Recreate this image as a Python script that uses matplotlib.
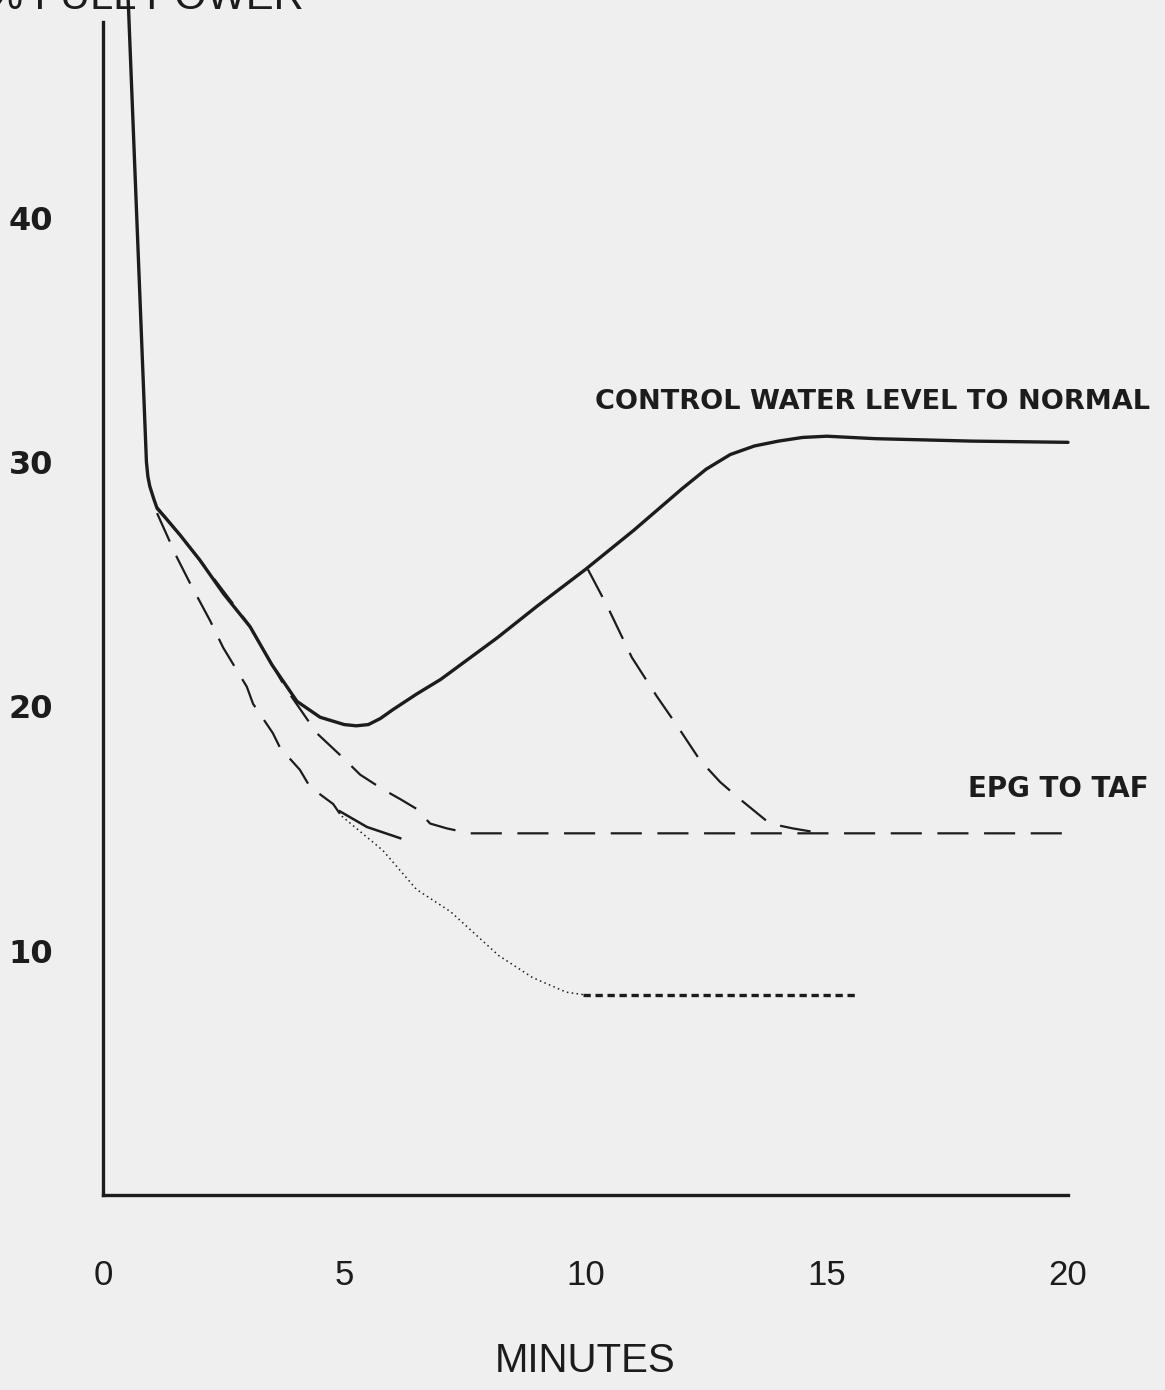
import matplotlib
matplotlib.use("Agg")
import matplotlib.pyplot as plt
from matplotlib import font_manager

# ---------------- data ----------------
x_ticks = [0, 5, 10, 15, 20]
y_ticks = [10, 20, 30, 40]

# main solid curve: control water level to normal
solid_x = [0.52, 0.72, 0.90, 0.93, 0.97, 1.05, 1.12, 1.3, 1.6, 2.0,
           2.5, 3.05, 3.5, 4.02, 4.5, 5.0, 5.25, 5.5, 5.75, 6.0, 6.5, 7.0, 8.17, 9.0, 10.0,
           11.0, 12.0, 12.5, 13.0, 13.5, 14.0, 14.5, 15.0, 16.0, 18.0, 20.0]
solid_y = [49.0, 39.0, 30.0, 29.4, 29.0, 28.5, 28.1, 27.7, 27.0, 26.0,
           24.6, 23.25, 21.7, 20.2, 19.55, 19.25, 19.2, 19.25, 19.5, 19.85, 20.5, 21.1, 22.8, 24.1, 25.6,
           27.2, 28.9, 29.7, 30.3, 30.65, 30.85, 31.0, 31.05, 30.95, 30.85, 30.8]

# upper dashed curve ending in the EPG-to-TAF level
dash1_x = [1.1, 2.0, 3.0, 3.8, 4.43, 4.97, 5.33, 5.8, 6.16, 6.5, 6.78, 7.13, 7.6, 20.0]
dash1_y = [28.2, 26.0, 23.4, 20.7, 18.9, 17.9, 17.2, 16.6, 16.2, 15.8, 15.2, 15.0, 14.8, 14.8]

# lower dashed curve
dash2_x = [1.12, 1.53, 1.8, 2.22, 2.49, 2.98, 3.11, 3.52, 3.67, 4.08, 4.29, 4.77, 4.91]
dash2_y = [27.9, 26.1, 25.05, 23.5, 22.4, 20.8, 20.1, 18.9, 18.3, 17.4, 16.7, 16.0, 15.6]

# short solid branch
short_x = [4.91, 5.47, 6.16]
short_y = [15.7, 15.06, 14.6]

# dotted decay curve
dot_x = [4.95, 5.8, 6.5, 7.2, 8.2, 8.9, 9.6, 9.95]
dot_y = [15.5, 14.1, 12.5, 11.6, 9.8, 8.9, 8.3, 8.2]
flat_x = [9.95, 15.63]
flat_y = [8.2, 8.2]

# dashed branch from the solid curve at 10 minutes
dash3_x = [10.05, 10.45, 10.96, 11.48, 11.9, 12.37, 12.79, 13.2, 13.82, 14.3, 14.9]
dash3_y = [25.6, 24.1, 22.0, 20.4, 19.2, 17.8, 16.9, 16.2, 15.2, 15.0, 14.8]

label_top = "CONTROL WATER LEVEL TO NORMAL"
label_bottom = "EPG TO TAF"
x_title = "MINUTES"
y_title = "% FULL POWER"

# ---------------- figure ----------------
W, H = 1165, 1390
DPI = 100
bg = "#efefef"
ink = "#1c1c1c"

names = {f.name for f in font_manager.fontManager.ttflist}
narrow = "Liberation Sans Narrow" if "Liberation Sans Narrow" in names else "Liberation Sans"

fig = plt.figure(figsize=(W / DPI, H / DPI), dpi=DPI, facecolor=bg)
left, right = 103 / W, 1068 / W
bottom, top = (H - 1195) / H, (H - 22) / H
ax = fig.add_axes([left, bottom, right - left, top - bottom])
ax.set_facecolor(bg)
ax.set_xlim(0, 20)
ax.set_ylim(0, 48)

for s in ["top", "right"]:
    ax.spines[s].set_visible(False)
for s in ["left", "bottom"]:
    ax.spines[s].set_linewidth(2.4)
    ax.spines[s].set_color(ink)

ax.set_xticks(x_ticks)
ax.set_xticklabels([str(t) for t in x_ticks], fontfamily=narrow, fontsize=25, color=ink)
ax.set_yticks(y_ticks)
ax.set_yticklabels([str(t) for t in y_ticks], fontfamily="DejaVu Sans", fontweight="bold",
                   fontsize=23, color=ink)
ax.tick_params(axis="x", length=0, pad=46)
ax.tick_params(axis="y", length=0, pad=36)

ax.plot(solid_x, solid_y, color=ink, lw=2.4, clip_on=False,
        solid_capstyle="round", solid_joinstyle="round")
ax.plot(dash1_x, dash1_y, color=ink, lw=1.6, dashes=(14, 7))
ax.plot(dash2_x, dash2_y, color=ink, lw=1.6, dashes=(14, 7))
ax.plot(short_x, short_y, color=ink, lw=1.8)
ax.plot(dot_x, dot_y, color=ink, lw=1.1, linestyle=(0, (1, 2.2)))
ax.plot(flat_x, flat_y, color=ink, lw=2.4, dashes=(2.2, 1.4))
ax.plot(dash3_x, dash3_y, color=ink, lw=1.6, dashes=(14, 7))

ax.text(21.7, 32.46, label_top, ha="right", va="center", fontsize=19.5,
        fontweight="bold", color=ink, fontfamily="DejaVu Sans", clip_on=False)
ax.text(21.67, 16.6, label_bottom, ha="right", va="center", fontsize=20,
        fontweight="bold", color=ink, fontfamily="DejaVu Sans", clip_on=False)

ax.set_xlabel(x_title, fontfamily="Liberation Sans", fontsize=29, color=ink, labelpad=36)
fig.text(-0.012, 1 - 9 / H, y_title, ha="left", va="baseline", fontsize=30,
         fontfamily="Liberation Sans", color=ink)

fig.savefig("out.png", dpi=DPI, facecolor=bg)
